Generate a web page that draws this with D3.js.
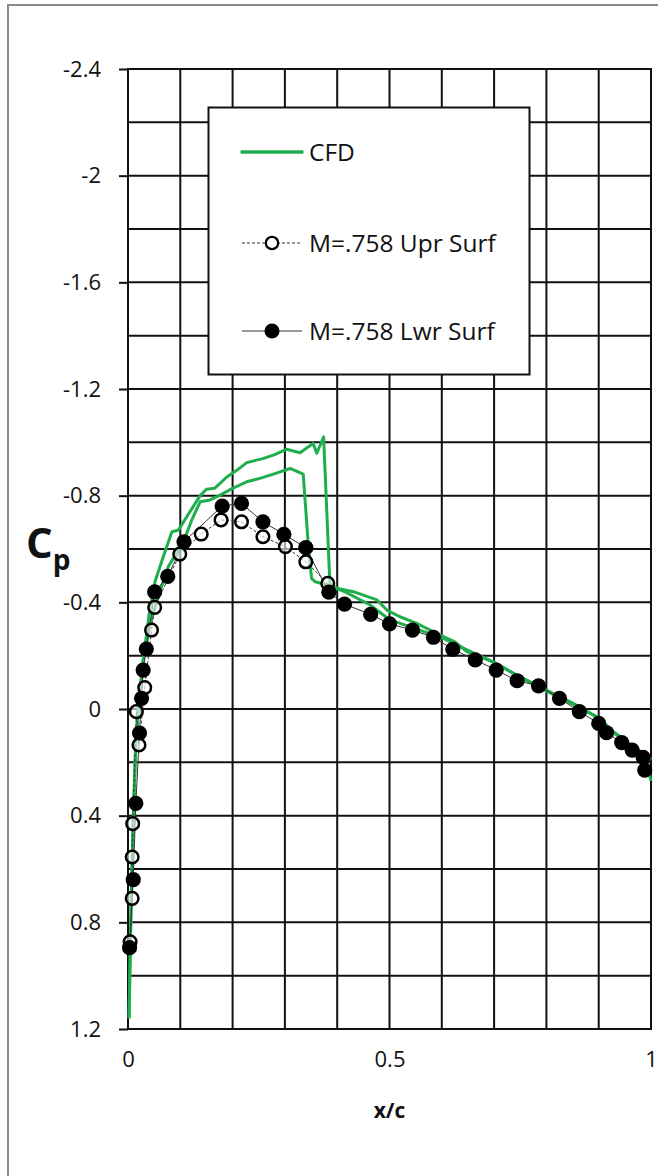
<!DOCTYPE html>
<html>
<head>
<meta charset="utf-8">
<script src="https://cdn.jsdelivr.net/npm/d3@7"></script>
<style>
  html, body { margin: 0; padding: 0; background: #fff; }
  svg { display: block; }
  text { font-family: "Open Sans", "DejaVu Sans", sans-serif; fill: #111; }
</style>
</head>
<body>
<script>
// Pressure distribution, M = 0.758: CFD vs. wind-tunnel taps

// CFD, suction-peak branch (shock near x/c = 0.38)
const cfdUpperX  = [0.002, 0.006, 0.010, 0.015, 0.021, 0.029, 0.040, 0.052, 0.069, 0.084, 0.096, 0.112, 0.138, 0.150, 0.166, 0.189, 0.208, 0.227, 0.259, 0.278, 0.303, 0.329, 0.354, 0.361, 0.374, 0.386, 0.399, 0.431, 0.476, 0.495, 0.520, 0.552, 0.590, 0.625, 0.648, 0.698, 0.737, 0.800, 0.851, 0.896, 0.928, 0.966, 0.995, 1.000];
const cfdUpperCp = [1.16, 0.72, 0.42, 0.12, -0.03, -0.18, -0.35, -0.48, -0.58, -0.665, -0.67, -0.72, -0.80, -0.824, -0.828, -0.87, -0.895, -0.924, -0.94, -0.952, -0.974, -0.961, -0.996, -0.959, -1.02, -0.471, -0.453, -0.44, -0.409, -0.371, -0.346, -0.321, -0.284, -0.252, -0.215, -0.177, -0.134, -0.071, -0.021, 0.029, 0.085, 0.141, 0.179, 0.19];

// CFD, second branch (shock near x/c = 0.34)
const cfdLowerX  = [0.002, 0.006, 0.010, 0.015, 0.021, 0.029, 0.042, 0.057, 0.077, 0.106, 0.122, 0.138, 0.157, 0.176, 0.201, 0.227, 0.252, 0.278, 0.310, 0.335, 0.345, 0.351, 0.358, 0.386, 0.415, 0.463, 0.501, 0.558, 0.603, 0.650, 0.700, 0.740, 0.800, 0.850, 0.900, 0.930, 0.965, 0.990, 1.000];
const cfdLowerCp = [1.16, 0.72, 0.42, 0.12, -0.03, -0.184, -0.315, -0.416, -0.534, -0.627, -0.709, -0.777, -0.784, -0.802, -0.828, -0.852, -0.865, -0.881, -0.902, -0.881, -0.609, -0.49, -0.477, -0.462, -0.439, -0.39, -0.334, -0.296, -0.265, -0.22, -0.175, -0.13, -0.068, -0.018, 0.033, 0.09, 0.145, 0.19, 0.27];

// Test data, upper surface taps
const uprX  = [0.004, 0.008, 0.008, 0.009, 0.016, 0.021, 0.032, 0.045, 0.051, 0.099, 0.140, 0.178, 0.217, 0.258, 0.301, 0.340, 0.382];
const uprCp = [0.873, 0.71, 0.555, 0.43, 0.01, 0.135, -0.08, -0.296, -0.381, -0.581, -0.656, -0.709, -0.702, -0.646, -0.609, -0.552, -0.471];

// Test data, lower surface taps
const lwrX  = [0.003, 0.010, 0.015, 0.022, 0.026, 0.029, 0.035, 0.051, 0.076, 0.107, 0.180, 0.217, 0.258, 0.298, 0.340, 0.384, 0.414, 0.464, 0.500, 0.544, 0.584, 0.621, 0.664, 0.704, 0.744, 0.785, 0.825, 0.863, 0.900, 0.915, 0.944, 0.964, 0.985, 0.988];
const lwrCp = [0.895, 0.64, 0.354, 0.09, -0.04, -0.146, -0.225, -0.439, -0.497, -0.627, -0.761, -0.771, -0.702, -0.655, -0.605, -0.438, -0.393, -0.355, -0.319, -0.296, -0.269, -0.224, -0.184, -0.146, -0.106, -0.087, -0.04, 0.01, 0.054, 0.089, 0.126, 0.154, 0.181, 0.229];

// Axis ticks
const xTickValues = [0, 0.5, 1];
const xTickLabels = ["0", "0.5", "1"];
const yTickValues = [-2.4, -2, -1.6, -1.2, -0.8, -0.4, 0, 0.4, 0.8, 1.2];
const yTickLabels = ["-2.4", "-2", "-1.6", "-1.2", "-0.8", "-0.4", "0", "0.4", "0.8", "1.2"];
const legendLabels = ["CFD", "M=.758 Upr Surf", "M=.758 Lwr Surf"];

const W = 658, H = 1176;
const green = "#1fae4c";

const svg = d3.select("body").append("svg").attr("width", W).attr("height", H);

// outer frame
svg.append("rect").attr("x", 8).attr("y", 5).attr("width", W + 10).attr("height", H + 10)
  .attr("fill", "none").attr("stroke", "#8a8a8a").attr("stroke-width", 2);

const x = d3.scaleLinear().domain([0, 1]).range([128, 651]);
const y = d3.scaleLinear().domain([-2.4, 1.2]).range([69, 1029]);

// grid
const grid = svg.append("g").attr("stroke", "#111").attr("stroke-width", 2);
grid.selectAll("line.v").data(d3.range(0, 11).map(i => i / 10)).join("line")
  .attr("x1", d => x(d)).attr("x2", d => x(d))
  .attr("y1", y(-2.4) - 1).attr("y2", y(1.2) + 1);
grid.selectAll("line.h").data(d3.range(0, 19).map(i => -2.4 + i * 0.2)).join("line")
  .attr("x1", x(0) - 1).attr("x2", x(1) + 1)
  .attr("y1", d => y(d)).attr("y2", d => y(d));

// y axis: outward ticks + labels
const yAxis = d3.axisLeft(y).tickValues(yTickValues).tickSize(9).tickPadding(18)
  .tickFormat((d, i) => yTickLabels[i]);
const gy = svg.append("g").attr("transform", `translate(${x(0)},0)`).call(yAxis);
gy.select(".domain").remove();
gy.selectAll(".tick line").attr("stroke", "#111").attr("stroke-width", 2);
gy.selectAll(".tick text").attr("font-size", 22).attr("fill", "#111")
  .attr("font-family", "'Open Sans', sans-serif");

// x axis labels
const xAxis = d3.axisBottom(x).tickValues(xTickValues).tickSize(0).tickPadding(22)
  .tickFormat((d, i) => xTickLabels[i]);
const gx = svg.append("g").attr("transform", `translate(0,${y(1.2)})`).call(xAxis);
gx.select(".domain").remove();
gx.selectAll(".tick text").attr("font-size", 22).attr("fill", "#111")
  .attr("font-family", "'Open Sans', sans-serif");

// axis titles
svg.append("text").attr("x", x(0.5)).attr("y", 1118).attr("text-anchor", "middle")
  .attr("font-size", 21).attr("font-weight", "bold").text("x/c");
const cp = svg.append("text").attr("x", 26).attr("y", 558).attr("font-weight", "bold");
cp.append("tspan").attr("font-size", 42).text("C");
cp.append("tspan").attr("font-size", 28).attr("dy", 12).text("p");

// CFD curves
const line = d3.line().x(d => x(d[0])).y(d => y(d[1]));
const cfdUpper = cfdUpperX.map((v, i) => [v, cfdUpperCp[i]]);
const cfdLower = cfdLowerX.map((v, i) => [v, cfdLowerCp[i]]);
[cfdUpper, cfdLower].forEach(pts => {
  svg.append("path").datum(pts).attr("d", line).attr("fill", "none")
    .attr("stroke", green).attr("stroke-width", 3).attr("stroke-linejoin", "round");
});

// test data
const upr = uprX.map((v, i) => [v, uprCp[i]]);
const lwr = lwrX.map((v, i) => [v, lwrCp[i]]);
svg.append("path").datum(upr).attr("d", line).attr("fill", "none")
  .attr("stroke", "#333").attr("stroke-width", 1).attr("stroke-dasharray", "3,2");
svg.append("path").datum(lwr).attr("d", line).attr("fill", "none")
  .attr("stroke", "#333").attr("stroke-width", 1);

svg.append("g").selectAll("circle").data(upr).join("circle")
  .attr("cx", d => x(d[0])).attr("cy", d => y(d[1])).attr("r", 6.3)
  .attr("fill", "#fff").attr("fill-opacity", 0.6).attr("stroke", "#000").attr("stroke-width", 2.5);
svg.append("g").selectAll("circle").data(lwr).join("circle")
  .attr("cx", d => x(d[0])).attr("cy", d => y(d[1])).attr("r", 7.6)
  .attr("fill", "#000");

// legend
const lg = svg.append("g");
lg.append("rect").attr("x", 208.5).attr("y", 107.5).attr("width", 321).attr("height", 267)
  .attr("fill", "#fff").attr("stroke", "#111").attr("stroke-width", 2);
const rows = [152, 243, 331];
lg.append("line").attr("x1", 242).attr("x2", 302).attr("y1", rows[0]).attr("y2", rows[0])
  .attr("stroke", green).attr("stroke-width", 3.5).attr("stroke-linecap", "round");
lg.append("line").attr("x1", 242).attr("x2", 302).attr("y1", rows[1]).attr("y2", rows[1])
  .attr("stroke", "#333").attr("stroke-width", 1).attr("stroke-dasharray", "3,2");
lg.append("circle").attr("cx", 272).attr("cy", rows[1]).attr("r", 6.2)
  .attr("fill", "#fff").attr("stroke", "#000").attr("stroke-width", 2.2);
lg.append("line").attr("x1", 242).attr("x2", 302).attr("y1", rows[2]).attr("y2", rows[2])
  .attr("stroke", "#333").attr("stroke-width", 1);
lg.append("circle").attr("cx", 272).attr("cy", rows[2]).attr("r", 7.5).attr("fill", "#000");
lg.selectAll("text.lab").data(legendLabels).join("text")
  .attr("x", 309).attr("y", (d, i) => rows[i]).attr("dy", "0.35em")
  .attr("font-size", 24.5).text(d => d);
</script>
</body>
</html>
